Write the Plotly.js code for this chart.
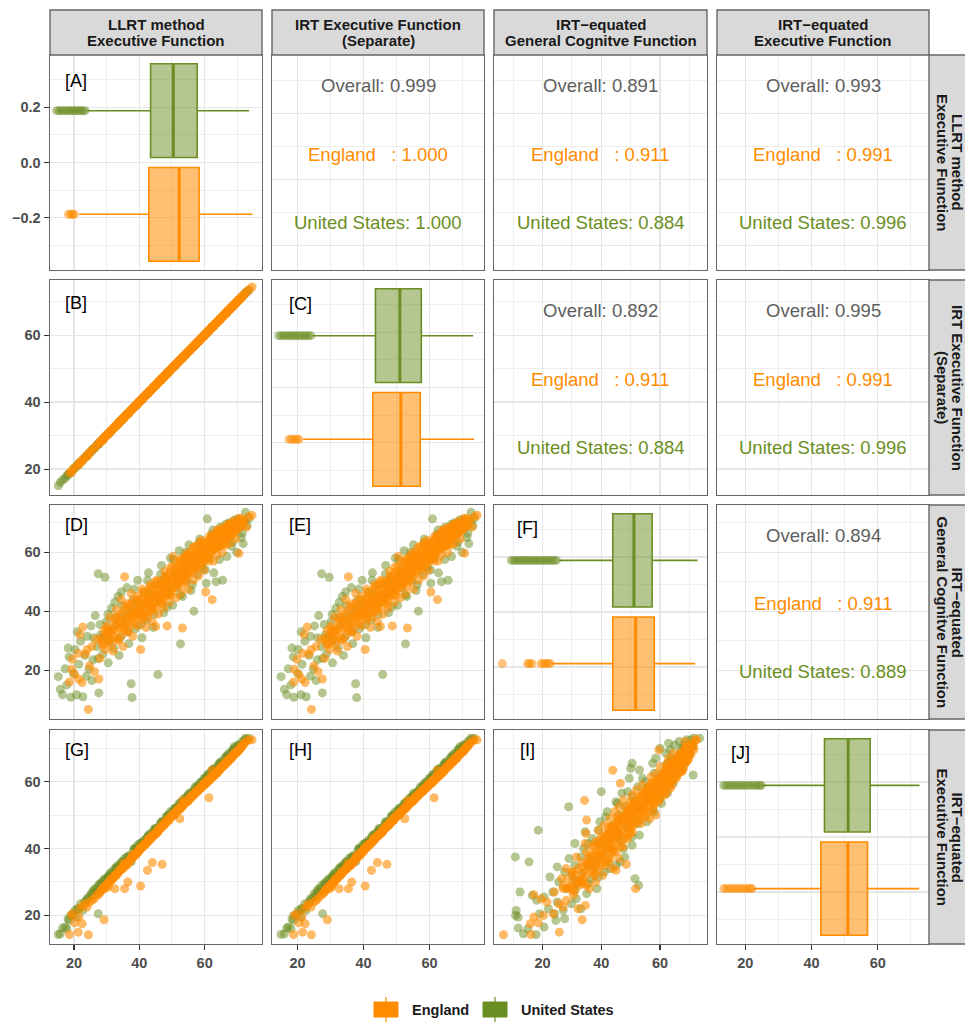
<!DOCTYPE html>
<html><head><meta charset="utf-8">
<script src="https://cdn.plot.ly/plotly-3.0.1.min.js"></script>
<style>html,body{margin:0;padding:0;background:#fff}#chart{width:965px;height:1022px}</style>
</head><body><div id="chart"></div>
<script>
// ---------------- DATA ----------------
const varLabels = [
  ["LLRT method", "Executive Function"],
  ["IRT Executive Function", "(Separate)"],
  ["IRT\u2212equated", "General Cognitve Function"],
  ["IRT\u2212equated", "Executive Function"]
];
const countries = ["England", "United States"];

// England observations: LLRT, IRT separate, IRT-equated general, IRT-equated EF
const engL = [18.6,19.3,19.5,20.2,21.3,21.5,21.8,22.5,22.7,23.5,
24.0,24.4,24.8,25.5,26.3,26.8,27.6,28.0,28.5,28.8,
29.2,29.5,30.0,30.3,30.5,31.0,31.5,31.8,32.0,32.5,
33.0,33.5,33.8,34.0,34.5,35.0,35.2,35.5,36.0,36.2,
36.5,37.0,37.5,37.8,38.0,38.5,39.0,39.2,39.5,40.0,
40.4,40.6,40.8,41.2,41.6,41.9,42.0,42.5,42.8,43.0,
43.2,43.6,44.0,44.2,44.4,44.8,45.0,45.4,45.6,45.8,
46.2,46.6,46.9,47.0,47.4,47.8,48.0,48.2,48.5,48.9,
49.2,49.4,49.6,50.0,50.4,50.6,50.8,51.2,51.6,51.9,
52.0,52.4,52.8,53.0,53.2,53.5,53.9,54.0,54.3,54.7,
55.0,55.2,55.4,55.8,56.2,56.4,56.6,57.0,57.4,57.6,
57.8,58.2,58.6,58.8,59.0,59.4,59.8,60.0,60.3,60.6,
61.0,61.2,61.3,61.6,62.0,62.3,62.5,62.7,63.0,63.4,
63.6,63.8,64.2,64.6,64.8,65.0,65.4,65.8,66.0,66.2,
66.6,67.0,67.2,67.4,67.8,68.2,68.4,68.6,69.0,69.5,
69.8,70.0,70.5,71.0,71.5,72.0,72.8,73.5,74.5,
28.3,29.0,29.8,30.6,31.2,32.2,32.8,33.3,34.2,34.8,
35.4,35.8,36.4,36.8,37.2,37.6,38.2,38.8,39.4,39.8,
40.2,40.9,41.4,41.8,42.2,42.6,43.1,43.4,43.8,44.3,
44.6,45.2,45.5,46.0,46.4,46.8,47.2,47.6,48.4,48.7,
49.0,49.8,50.2,50.9,51.4,51.8,52.2,52.6,53.4,53.7,
54.2,54.5,54.9,55.6,56.0,56.8,57.2,57.9,58.4,59.2,
59.6,60.1,60.8,61.4,61.8,62.2,62.9,63.2,63.9,64.4,
65.2,65.6,66.4,66.8,67.6,68.0,68.8,69.2,70.2,70.8,
71.2,71.8,
30.2,31.4,32.4,33.6,34.4,35.6,36.6,37.4,38.4,39.6,
40.8,41.2,42.4,43.3,44.1,44.9,45.7,46.3,47.1,47.9,
48.3,49.1,49.7,50.3,50.7,51.3,51.7,52.3,52.9,53.3,
53.9,54.4,54.8,55.3,55.9,56.3,56.9,57.3,57.7,58.1,
58.7,59.3,59.9,60.4,60.9,61.5,62.1,62.6,63.3,63.8,
64.3,64.9,65.5,66.1,66.7,67.3,67.9,68.7,69.4,70.4,
35.1,37.9,40.1,42.9,45.3,47.7,50.1,52.7,55.1,57.5,
59.7,62.4,64.7,67.1,69.9,33.1,38.7,43.7,48.8,53.8];
const engS = [18.8,19.0,19.8,20.4,21.5,21.3,22.0,22.3,22.9,23.4,
24.1,24.2,25.0,25.6,26.2,27.0,27.5,28.2,28.4,28.9,
29.0,29.7,30.1,30.4,30.3,31.2,31.4,31.9,32.1,32.6,
33.1,33.3,33.9,34.2,34.6,35.1,35.3,35.4,36.2,36.3,
36.4,37.1,37.6,37.9,38.0,38.7,39.1,39.3,39.4,40.2,
40.5,40.7,40.9,41.1,41.8,42.0,42.1,42.4,43.0,43.1,
43.3,43.5,44.2,44.3,44.5,44.9,45.1,45.3,45.7,45.9,
46.4,46.5,47.0,47.1,47.5,47.9,48.1,48.1,48.7,49.0,
49.3,49.5,49.5,50.1,50.5,50.7,50.9,51.1,51.8,52.0,
52.1,52.5,52.7,53.1,53.3,53.6,54.0,54.1,54.2,54.8,
55.1,55.3,55.5,55.7,56.3,56.5,56.7,57.1,57.3,57.7,
57.9,58.3,58.5,58.9,59.1,59.5,59.7,60.1,60.4,60.7,
61.1,61.3,61.4,61.5,62.1,62.4,62.6,62.6,63.1,63.5,
63.7,63.7,64.3,64.5,64.9,65.1,65.5,65.7,66.1,66.3,
66.5,67.1,67.3,67.5,67.7,68.3,68.5,68.5,69.1,69.4,
69.9,70.1,70.6,70.9,71.6,72.1,72.9,73.6,74.4,
28.4,29.2,29.9,30.7,31.3,32.3,32.9,33.4,34.3,34.9,
35.5,35.9,36.5,36.9,37.3,37.7,38.3,38.9,39.5,39.9,
40.3,41.0,41.5,41.9,42.3,42.7,43.2,43.5,43.9,44.4,
44.7,45.3,45.6,46.1,46.5,46.9,47.3,47.7,48.5,48.8,
49.1,49.9,50.3,51.0,51.5,51.9,52.3,52.7,53.5,53.8,
54.3,54.6,55.0,55.7,56.1,56.9,57.3,58.0,58.5,59.3,
59.7,60.2,60.9,61.5,61.9,62.3,63.0,63.3,64.0,64.5,
65.3,65.7,66.5,66.9,67.7,68.1,68.9,69.3,70.3,70.9,
71.3,71.9,
30.3,31.5,32.5,33.7,34.5,35.7,36.7,37.5,38.5,39.7,
40.9,41.3,42.5,43.4,44.2,45.0,45.8,46.4,47.2,48.0,
48.4,49.2,49.8,50.4,50.8,51.4,51.8,52.4,53.0,53.4,
54.0,54.5,54.9,55.4,56.0,56.4,57.0,57.4,57.8,58.2,
58.8,59.4,60.0,60.5,61.0,61.6,62.2,62.7,63.4,63.9,
64.4,65.0,65.6,66.2,66.8,67.4,68.0,68.8,69.5,70.5,
35.2,38.0,40.2,43.0,45.4,47.8,50.2,52.8,55.2,57.6,
59.8,62.5,64.8,67.2,70.0,33.2,38.8,43.8,48.9,53.9];
const engG = [16.0,20.3,23.7,18.5,25.7,17.0,32.1,15.8,34.6,25.5,
27.0,6.7,21.5,28.0,19.5,30.5,17.0,24.0,31.0,28.5,
33.5,27.0,35.0,31.5,29.5,38.0,32.0,33.5,26.5,36.0,
40.5,30.0,36.5,34.5,44.0,28.0,33.5,51.7,37.5,38.0,
33.0,41.0,46.0,39.5,31.5,38.5,43.5,41.0,35.0,40.5,
27.0,43.0,47.5,37.0,42.5,40.0,34.5,45.0,39.5,44.5,
49.0,41.5,36.5,42.0,46.0,43.0,34.8,50.5,45.5,39.0,
47.0,44.0,44.5,48.5,41.0,53.5,50.0,45.5,35.0,49.5,
43.0,47.5,55.0,47.0,58.5,53.0,51.0,44.5,53.0,51.5,
49.0,56.5,46.0,54.5,34.3,52.0,58.0,52.5,50.0,55.5,
47.5,56.5,60.0,53.5,57.5,54.0,50.5,62.0,55.0,58.0,
59.0,52.0,63.5,60.0,56.5,60.5,54.0,57.5,46.5,62.5,
58.0,61.5,57.0,64.5,60.0,43.9,63.0,57.0,65.5,61.5,
63.5,59.0,66.5,62.0,65.0,68.0,60.0,64.0,65.5,67.0,
62.5,69.0,67.0,65.5,63.0,68.5,67.5,66.0,70.0,64.5,
69.0,67.5,59.6,70.5,69.0,71.0,68.5,72.0,72.5,
30.0,29.0,32.5,33.0,30.5,34.5,31.0,38.0,37.0,32.0,
40.0,35.5,42.5,36.0,38.5,43.0,35.5,40.0,45.0,38.0,
42.0,44.0,39.0,45.5,42.5,38.0,47.0,43.5,40.0,48.5,
45.0,41.5,47.5,45.0,50.0,42.5,46.5,51.0,47.0,52.0,
45.5,50.5,55.0,48.5,54.5,50.0,53.5,57.5,50.5,55.0,
57.0,53.0,59.0,55.0,58.5,56.0,60.5,55.5,58.5,62.0,
58.0,60.5,63.5,59.5,62.5,65.0,61.0,64.0,67.0,63.0,
66.5,62.5,68.0,64.5,69.5,66.0,69.0,67.0,70.0,68.5,
71.5,70.0,
34.0,28.5,37.5,30.5,39.0,41.5,33.5,42.0,36.5,44.0,
37.5,46.5,40.5,48.0,41.0,50.0,43.0,49.0,43.5,51.5,
46.0,53.0,45.5,52.5,48.0,56.5,49.5,55.5,48.5,58.0,
51.0,59.5,52.0,58.5,53.0,61.5,55.5,60.0,54.5,62.5,
56.0,64.0,57.0,63.0,59.0,65.5,60.5,66.0,61.5,67.5,
62.0,67.5,63.0,68.5,65.0,69.5,66.0,70.5,67.5,71.5,
35.0,38.0,40.0,43.0,45.5,48.0,50.0,52.5,55.0,57.5,
59.5,62.0,64.5,67.0,69.5,33.5,39.0,44.0,49.0,54.0];
const engE = [14.3,20.0,20.5,17.8,15.0,19.5,22.0,17.5,23.0,23.5,
22.5,14.2,24.0,24.5,25.0,26.0,26.2,27.0,27.5,28.0,
18.7,28.0,29.0,29.5,28.5,30.0,30.5,31.0,31.0,28.0,
32.0,33.0,33.0,33.5,34.0,34.0,34.5,28.0,35.5,35.0,
30.0,36.0,37.0,37.0,37.5,38.0,38.5,38.5,39.0,39.5,
28.8,40.0,40.5,41.0,41.0,41.5,41.5,33.5,42.5,42.5,
43.0,43.0,35.8,44.0,44.0,44.5,44.5,45.0,45.0,45.5,
46.0,46.5,46.5,35.3,47.0,47.5,47.5,48.0,48.5,48.5,
49.0,49.0,49.5,50.0,50.0,50.0,50.5,51.0,51.5,51.5,
51.5,48.9,52.5,52.5,54.4,53.0,53.5,53.5,54.0,54.0,
54.5,54.5,55.0,55.5,55.5,56.0,56.0,56.5,57.0,57.0,
57.0,57.5,58.0,58.0,58.5,58.5,59.0,59.5,59.5,59.5,
60.0,60.5,55.2,60.5,61.0,63.4,61.5,61.5,62.0,62.5,
62.5,62.5,63.0,63.5,64.0,64.0,64.5,65.0,65.0,65.0,
65.5,66.0,66.0,66.5,67.0,67.0,67.5,67.5,68.0,68.5,
69.0,69.0,69.5,70.0,70.5,71.5,72.0,72.5,72.5,
27.5,28.5,29.0,30.0,30.5,31.5,32.0,32.5,33.5,34.0,
35.0,35.0,36.0,36.0,36.5,37.0,37.5,38.0,39.0,39.0,
40.0,40.5,41.0,41.5,41.5,42.0,42.5,43.0,43.5,44.0,
44.0,44.5,45.0,45.5,46.0,46.5,47.0,47.0,48.0,48.5,
48.5,49.5,50.0,50.5,51.0,51.5,52.0,52.0,53.0,53.5,
54.0,54.0,54.5,55.0,55.5,56.5,56.5,57.5,58.0,58.5,
59.0,59.5,60.0,60.5,61.0,61.5,62.0,62.5,63.0,63.5,
64.5,64.5,65.5,66.0,66.5,67.0,68.0,68.5,69.0,70.0,
70.5,71.0,
29.5,31.0,32.0,33.0,34.0,35.0,36.0,37.0,38.0,39.0,
40.5,40.5,42.0,43.0,43.5,44.5,45.0,46.0,46.5,47.5,
48.0,48.5,49.5,50.0,50.0,51.0,51.5,52.0,52.5,53.0,
53.5,54.0,54.5,55.0,55.5,56.0,56.5,57.0,57.0,57.5,
58.0,59.0,59.5,60.0,60.5,61.0,61.5,62.0,62.5,63.0,
63.5,64.0,64.5,65.5,66.0,66.5,67.0,68.0,68.5,69.5,
35.5,38.0,40.0,43.0,45.0,47.5,50.0,52.0,54.5,57.0,
59.0,61.5,64.0,66.5,69.0,32.5,38.5,43.5,48.5,53.5];

// United States observations
const usL = [15.2,15.8,16.5,17.3,17.8,18.5,19.0,19.8,20.3,20.8,
21.5,22.0,22.7,23.3,24.0,24.6,25.2,25.8,26.5,27.0,
27.4,27.4,27.6,28.2,28.8,29.0,29.5,30.0,30.8,31.0,
31.5,32.2,32.8,33.0,33.5,34.2,34.8,35.0,35.5,36.2,
36.8,37.0,37.5,37.8,38.2,38.8,39.0,39.5,40.2,40.8,
41.0,41.5,42.2,42.8,43.0,43.5,44.2,44.8,45.0,45.7,
46.2,46.8,47.0,47.5,48.2,48.8,49.0,49.5,50.2,50.8,
51.0,51.5,52.2,52.6,53.0,53.2,53.8,54.5,55.0,55.2,
55.8,56.7,57.0,57.2,57.8,58.5,59.0,59.2,59.8,60.5,
60.8,61.0,61.5,62.2,62.8,63.0,63.5,64.2,64.8,65.0,
65.5,66.2,66.8,67.0,67.5,68.2,68.8,69.0,69.2,69.8,
70.5,71.2,71.8,72.2,72.5,73.0,73.6,
26.0,28.0,30.4,32.5,34.5,36.5,38.5,40.5,42.5,44.5,
46.5,48.5,50.5,52.5,54.2,56.2,58.2,60.2,62.5,64.5,
66.5,68.5,70.2,71.5,23.8,25.5,30.5,33.8,18.2,21.0];
const usS = [15.0,16.0,16.7,17.2,18.0,18.7,18.9,20.0,20.2,21.0,
21.4,22.2,22.6,23.5,23.9,24.8,25.1,26.0,26.4,27.2,
27.3,27.6,27.5,28.4,28.7,29.1,29.6,30.2,30.7,31.1,
31.6,32.3,32.7,33.1,33.6,34.3,34.7,35.1,35.6,36.3,
36.7,37.1,37.6,37.9,38.3,38.7,39.1,39.6,40.3,40.7,
41.1,41.6,42.3,42.7,43.1,43.6,44.3,44.7,45.1,45.8,
46.3,46.7,47.1,47.6,48.3,48.7,49.1,49.6,50.3,50.7,
51.1,51.6,52.3,52.7,53.1,53.1,53.9,54.6,55.1,55.1,
55.9,56.6,57.1,57.3,57.9,58.4,59.1,59.3,59.9,60.4,
60.9,61.1,61.6,62.3,62.7,63.1,63.6,64.3,64.7,65.1,
65.6,66.3,66.7,67.1,67.6,68.3,68.7,69.1,69.3,69.9,
70.6,71.3,71.9,72.3,72.6,73.1,73.5,
26.1,28.1,30.5,32.6,34.6,36.6,38.6,40.6,42.6,44.6,
46.6,48.6,50.6,52.6,54.3,56.3,58.3,60.3,62.6,64.6,
66.6,68.6,70.3,71.6,23.9,25.6,30.6,33.9,18.3,21.1];
const usG = [17.8,13.5,11.7,20.5,15.0,24.5,10.8,19.0,27.0,11.7,
22.0,29.8,11.0,25.0,31.5,20.5,35.0,23.5,38.5,28.0,
52.7,24.0,12.3,32.0,25.5,31.0,51.5,36.5,30.0,33.5,
41.0,27.5,38.0,35.5,45.0,31.0,42.0,38.5,36.0,48.0,
29.0,40.5,15.4,10.7,44.0,34.0,42.0,50.5,39.0,31.0,
41.5,46.5,37.0,53.0,46.0,42.5,34.5,49.0,44.0,18.5,
44.0,55.5,49.5,39.5,51.0,46.0,48.5,58.0,42.0,53.5,
52.0,48.0,60.5,28.9,51.5,45.0,55.5,50.5,57.0,62.5,
47.0,40.0,55.5,58.0,52.5,64.5,59.5,55.0,61.0,49.5,
71.3,60.5,58.0,66.0,53.0,64.0,50.0,62.0,68.5,63.0,
50.5,64.0,58.5,66.5,70.0,62.0,67.0,68.0,71.0,60.0,
68.0,65.0,62.9,70.5,73.5,69.0,71.5,
31.0,35.5,39.0,43.0,46.5,33.0,47.5,35.5,50.5,39.0,
52.5,41.5,57.5,45.5,60.0,49.0,63.0,54.0,67.5,57.5,
69.5,63.5,71.0,66.5,18.0,16.5,22.5,25.0,27.5,33.0];
const usE = [14.3,14.5,16.2,16.5,16.0,18.5,20.0,20.5,21.5,19.5,
22.0,23.5,21.5,24.0,25.0,25.5,26.5,27.0,28.0,28.0,
29.0,20.5,27.0,29.5,30.0,30.5,31.0,31.0,32.0,32.5,
33.0,33.0,34.0,34.5,35.0,35.0,36.0,36.0,37.0,37.5,
37.0,38.0,36.0,37.5,39.5,40.0,40.0,41.0,41.5,41.5,
42.0,42.5,43.0,44.0,44.0,44.5,45.0,46.0,46.0,45.5,
47.0,48.0,48.0,48.0,49.5,50.0,50.0,51.0,51.0,52.0,
52.0,52.5,53.5,52.5,54.0,54.0,55.0,55.5,56.0,56.5,
56.5,57.0,58.0,58.5,58.5,59.5,60.0,60.0,61.0,61.0,
62.0,62.0,62.5,63.5,63.5,64.0,64.0,65.0,65.5,66.0,
65.5,67.0,67.0,68.0,68.5,68.5,69.5,70.0,70.5,70.0,
71.0,71.0,71.5,72.5,73.0,72.5,73.0,
27.5,29.5,31.5,34.0,36.0,37.5,40.0,41.5,43.5,45.5,
47.5,49.5,51.5,53.5,55.0,57.0,59.0,61.0,63.5,65.5,
67.5,69.5,71.0,72.0,24.5,26.0,31.5,34.5,19.0,22.0];

// Box plot statistics per variable (LLRT, IRT sep, IRT-eq general, IRT-eq EF)
const usQ1  = [43.45, 43.6, 43.9, 43.9];
const usMed = [50.4, 51.0, 51.1, 51.05];
const usQ3  = [57.7, 57.5, 57.3, 57.7];
const usLo  = [24.0, 24.5, 25.5, 25.0];
const usHi  = [73.6, 73.2, 72.8, 72.6];
const engQ1  = [42.9, 42.8, 43.9, 42.8];
const engMed = [52.2, 51.3, 51.7, 50.95];
const engQ3  = [58.3, 57.2, 58.05, 56.9];
const engLo  = [21.6, 21.7, 23.0, 22.3];
const engHi  = [74.6, 73.5, 72.0, 72.5];
const usOut = [
  [14.7,15.5,16.2,17.0,17.8,18.5,19.2,19.9,20.6,21.3,22.0,22.7,23.4],
  [14.3,15.2,16.0,16.8,17.6,18.4,19.2,20.0,20.8,21.6,22.4,23.2,24.0],
  [9.4,10.3,11.2,12.1,13.0,13.9,14.8,15.7,16.6,17.5,18.4,19.3,20.2,21.1,22.0,22.9,23.8,24.7],
  [13.5,14.4,15.3,16.2,17.1,18.0,18.9,19.8,20.7,21.6,22.5,23.4,24.3,24.8]
];
const engOut = [
  [18.3,19.0,19.6,20.1],
  [17.4,18.2,19.0,19.8,20.4],
  [6.3,14.9,15.6,16.4,19.5,20.3,21.1,21.9,22.6],
  [13.5,14.4,15.3,16.2,17.1,18.0,18.9,19.8,20.7,21.5,22.0]
];

// Correlations (upper panels), pairs [row, col]
const corPairs   = [[0,1],[0,2],[0,3],[1,2],[1,3],[2,3]];
const corOverall = ["0.999","0.891","0.993","0.892","0.995","0.894"];
const corEngland = ["1.000","0.911","0.991","0.911","0.991","0.911"];
const corUS      = ["1.000","0.884","0.996","0.884","0.996","0.889"];

const panelLetters = ["A","B","C","D","E","F","G","H","I","J"];

// ---------------- LAYOUT CONSTANTS ----------------
const W = 965, H = 1022;
const FONT = "Liberation Sans, Arial, Helvetica, sans-serif";
const ORANGE = "#FF8C00", GREEN = "#6B8E23";
const colPx = [[50,262],[272,484],[494,707],[717,929]];
const rowPx = [[55,270],[280,495],[505,719],[730,944]];
const varRange = [[12.66,77.55],[12.25,76.5],[3.45,76.0],[11.45,75.45]];
const groupRange = [-0.39, 0.39];
const groupPos = {us: 0.188, eng: -0.188};
const boxW = 0.34;
const letterOff = { // [dx from panel left, dy from panel top]
  "0,0":[13,26],"1,0":[13,23],"1,1":[14.7,24],"2,0":[13,20],"2,1":[14.7,20],
  "2,2":[21,23],"3,0":[13,20],"3,1":[14.7,20],"3,2":[24,20],"3,3":[12,23]
};
const px2x = p => p / W;
const px2y = p => 1 - p / H;

const usData = [usL, usS, usG, usE];
const engData = [engL, engS, engG, engE];

const traces = [];
const layout = {
  width: W, height: H,
  margin: {l:0, r:0, t:0, b:0, pad:0},
  paper_bgcolor: "#fff", plot_bgcolor: "#fff",
  showlegend: false, boxmode: "overlay",
  font: {family: FONT},
  annotations: [], shapes: []
};

const tickFont = {family: FONT, size: 14.5, color: "#4D4D4D", weight: "bold"};
function axisBase(domain, range, isGroup, showLabels) {
  const a = {
    domain: domain, range: range, autorange: false,
    showgrid: true, gridcolor: "#E6E6E6", gridwidth: 1.3,
    zeroline: false, showline: true, mirror: true,
    linecolor: "#666666", linewidth: 1.4,
    ticks: showLabels ? "outside" : "", ticklen: 5, tickwidth: 1.1, tickcolor: "#333333",
    showticklabels: showLabels, tickfont: tickFont, fixedrange: true
  };
  if (isGroup) {
    a.tick0 = 0; a.dtick = 0.2; a.tickformat = ".1f";
    a.minor = {tick0: 0, dtick: 0.1, showgrid: true, gridcolor: "#ECECEC", gridwidth: 0.9};
  } else {
    a.tick0 = 0; a.dtick = 20;
    a.minor = {tick0: 0, dtick: 10, showgrid: true, gridcolor: "#ECECEC", gridwidth: 0.9};
  }
  return a;
}

let letterIdx = 0;
for (let r = 0; r < 4; r++) {
  for (let c = 0; c < 4; c++) {
    const k = r * 4 + c + 1;
    const xa = k === 1 ? "x" : "x" + k;
    const ya = k === 1 ? "y" : "y" + k;
    const xd = [px2x(colPx[c][0]), px2x(colPx[c][1])];
    const yd = [px2y(rowPx[r][1]), px2y(rowPx[r][0])];
    const isDiag = r === c;
    const xaxis = axisBase(xd, varRange[c], false, r === 3);
    xaxis.anchor = ya;
    const yaxis = axisBase(yd, isDiag ? groupRange : varRange[r], isDiag, c === 0);
    yaxis.anchor = xa;
    layout["xaxis" + (k === 1 ? "" : k)] = xaxis;
    layout["yaxis" + (k === 1 ? "" : k)] = yaxis;

    if (r > c) {
      traces.push({type: "scatter", mode: "markers", x: usData[c], y: usData[r], xaxis: xa, yaxis: ya,
        marker: {color: GREEN, size: 9, opacity: 0.5, line: {width: 0}}, hoverinfo: "skip", name: countries[1]});
      traces.push({type: "scatter", mode: "markers", x: engData[c], y: engData[r], xaxis: xa, yaxis: ya,
        marker: {color: ORANGE, size: 9, opacity: 0.6, line: {width: 0}}, hoverinfo: "skip", name: countries[0]});
    } else if (isDiag) {
      const groups = [
        {pos: groupPos.us, q1: usQ1, med: usMed, q3: usQ3, lo: usLo, hi: usHi, out: usOut, col: GREEN, fill: "rgba(107,142,35,0.5)", name: countries[1]},
        {pos: groupPos.eng, q1: engQ1, med: engMed, q3: engQ3, lo: engLo, hi: engHi, out: engOut, col: ORANGE, fill: "rgba(255,140,0,0.55)", name: countries[0]}
      ];
      groups.forEach(g => {
        traces.push({type: "box", orientation: "h", y: [g.pos], q1: [g.q1[c]], median: [g.med[c]], q3: [g.q3[c]],
          lowerfence: [g.lo[c]], upperfence: [g.hi[c]], width: boxW, whiskerwidth: 0,
          fillcolor: g.fill, line: {color: g.col, width: 1.6}, boxpoints: false,
          xaxis: xa, yaxis: ya, hoverinfo: "skip", name: g.name});
        traces.push({type: "scatter", mode: "lines", x: [g.med[c], g.med[c]], y: [g.pos - boxW / 2, g.pos + boxW / 2],
          xaxis: xa, yaxis: ya, line: {color: g.col, width: 3}, hoverinfo: "skip"});
        traces.push({type: "scatter", mode: "markers", x: g.out[c], y: g.out[c].map(() => g.pos),
          xaxis: xa, yaxis: ya, marker: {color: g.col, size: 9, opacity: 0.5, line: {width: 0}}, hoverinfo: "skip"});
      });
    } else {
      traces.push({type: "scatter", mode: "markers", x: [], y: [], xaxis: xa, yaxis: ya, hoverinfo: "skip"});
      const pi = corPairs.findIndex(p => p[0] === r && p[1] === c);
      const cx = px2x((colPx[c][0] + colPx[c][1]) / 2);
      const top = rowPx[r][0], h = rowPx[r][1] - rowPx[r][0];
      const lines = [
        {t: "Overall: " + corOverall[pi], col: "#5E5E5E", f: 0.144},
        {t: "England\u00a0\u00a0\u00a0: " + corEngland[pi], col: ORANGE, f: 0.462},
        {t: "United States: " + corUS[pi], col: GREEN, f: 0.78}
      ];
      lines.forEach(L => layout.annotations.push({
        text: L.t, xref: "paper", yref: "paper", x: cx, y: px2y(top + L.f * h),
        xanchor: "center", yanchor: "middle", showarrow: false,
        font: {family: FONT, size: 18.5, color: L.col}
      }));
    }
    if (r >= c) {
      const off = letterOff[r + "," + c];
      layout.annotations.push({
        text: "[" + panelLetters[letterIdx++] + "]", xref: "paper", yref: "paper",
        x: px2x(colPx[c][0] + off[0]), y: px2y(rowPx[r][0] + off[1]),
        xanchor: "left", yanchor: "middle", showarrow: false,
        font: {family: FONT, size: 18, color: "#000"}
      });
    }
  }
}

// Strips
const stripStyle = {fillcolor: "#D9D9D9", line: {color: "#666666", width: 1.4}};
for (let c = 0; c < 4; c++) {
  layout.shapes.push(Object.assign({type: "rect", xref: "paper", yref: "paper",
    x0: px2x(colPx[c][0]), x1: px2x(colPx[c][1]), y0: px2y(55), y1: px2y(10)}, stripStyle));
  const cx = px2x((colPx[c][0] + colPx[c][1]) / 2);
  [25, 40.7].forEach((yy, i) => layout.annotations.push({
    text: "<b>" + varLabels[c][i] + "</b>", xref: "paper", yref: "paper", x: cx, y: px2y(yy),
    xanchor: "center", yanchor: "middle", showarrow: false,
    font: {family: FONT, size: 15, color: "#1A1A1A"}
  }));
}
for (let r = 0; r < 4; r++) {
  layout.shapes.push(Object.assign({type: "rect", xref: "paper", yref: "paper",
    x0: px2x(929), x1: px2x(966), y0: px2y(rowPx[r][1]), y1: px2y(rowPx[r][0])}, stripStyle));
  const cy = px2y((rowPx[r][0] + rowPx[r][1]) / 2);
  [957.5, 942.5].forEach((xx, i) => layout.annotations.push({
    text: "<b>" + varLabels[r][i] + "</b>", xref: "paper", yref: "paper", x: px2x(xx), y: cy,
    xanchor: "center", yanchor: "middle", showarrow: false, textangle: 90,
    font: {family: FONT, size: 15, color: "#1A1A1A"}
  }));
}

// Legend (manual keys)
const legendItems = [
  {name: countries[0], col: ORANGE, kx: 374, tx: 410},
  {name: countries[1], col: GREEN, kx: 483, tx: 519}
];
legendItems.forEach(it => {
  layout.shapes.push({type: "line", xref: "paper", yref: "paper",
    x0: px2x(it.kx + 12), x1: px2x(it.kx + 12), y0: px2y(997), y1: px2y(1022), line: {color: it.col, width: 1.2}});
  layout.shapes.push({type: "rect", xref: "paper", yref: "paper",
    x0: px2x(it.kx), x1: px2x(it.kx + 24), y0: px2y(1017), y1: px2y(1002),
    fillcolor: it.col, line: {color: it.col, width: 1}});
  layout.annotations.push({text: "<b>" + it.name + "</b>", xref: "paper", yref: "paper",
    x: px2x(it.tx), y: px2y(1010), xanchor: "left", yanchor: "middle", showarrow: false,
    font: {family: FONT, size: 14.5, color: "#1A1A1A"}});
});

Plotly.newPlot("chart", traces, layout, {staticPlot: true, displayModeBar: false});
</script>
</body></html>
